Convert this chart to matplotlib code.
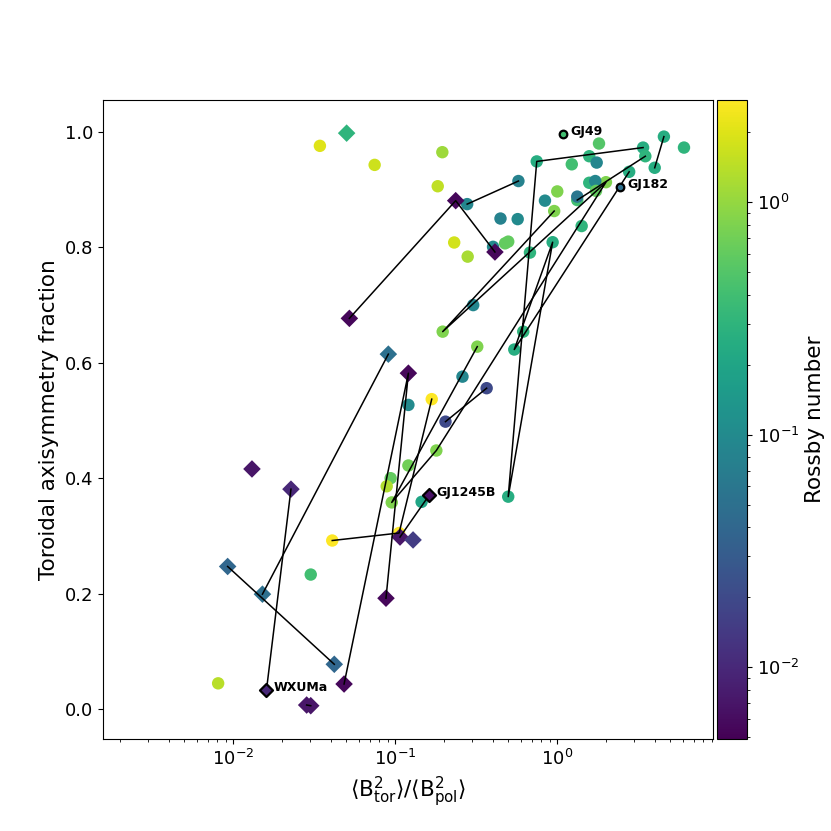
import matplotlib
matplotlib.use('Agg')
import matplotlib.pyplot as plt
from matplotlib.colors import LogNorm
import numpy as np

# magnetic energy ratio <B_tor^2>/<B_pol^2>, toroidal axisymmetric fraction,
# Rossby number, marker ('o' = circle, 'D' = diamond) and star id (same id -> joined)
bratio = [0.961, 0.197, 2.006, 0.180, 0.0955, 0.322,
          3.40, 0.750, 0.500, 0.940, 0.545, 2.79,
          4.57, 4.01,
          3.51, 1.334,
          0.279, 0.578,
          0.368, 0.205,
          0.041, 0.106, 0.1686,
          0.0344, 0.0749, 0.196, 0.1836, 0.232, 0.281, 0.448, 0.572, 0.403,
          0.478, 0.500, 0.681, 0.843, 1.004, 1.234, 1.817, 1.582, 1.758,
          1.582, 1.723, 1.741, 1.334, 1.42, 6.08, 0.304, 0.619, 0.261,
          0.121, 0.121, 0.094, 0.0889, 0.146, 0.0302, 0.0081,
          0.0503,
          0.0523, 0.237, 0.414,
          0.0485, 0.121, 0.0880,
          0.091, 0.0152,
          0.00927, 0.0422,
          0.0228,
          0.1074,
          0.0285, 0.0302,
          0.1293, 0.0131]
axifrac = [0.863, 0.654, 0.913, 0.448, 0.358, 0.628,
           0.973, 0.949, 0.368, 0.809, 0.623, 0.931,
           0.992, 0.938,
           0.958, 0.882,
           0.875, 0.915,
           0.556, 0.498,
           0.292, 0.305, 0.537,
           0.976, 0.943, 0.965, 0.906, 0.8085, 0.784, 0.850, 0.849, 0.801,
           0.807, 0.810, 0.791, 0.881, 0.897, 0.944, 0.980, 0.958, 0.947,
           0.912, 0.915, 0.898, 0.888, 0.837, 0.973, 0.700, 0.654, 0.576,
           0.527, 0.422, 0.400, 0.386, 0.359, 0.233, 0.0445,
           0.998,
           0.677, 0.881, 0.792,
           0.0433, 0.582, 0.192,
           0.615, 0.199,
           0.247, 0.0775,
           0.381,
           0.298,
           0.0069, 0.0057,
           0.293, 0.416]
rossby = [0.8, 0.8, 0.8, 0.8, 0.8, 0.8,
          0.25, 0.25, 0.25, 0.25, 0.25, 0.25,
          0.25, 0.25,
          0.3, 0.4,
          0.09, 0.08,
          0.02, 0.02,
          2.75, 2.75, 2.75,
          2.0, 1.7, 1.1, 1.5, 1.8, 1.2, 0.08, 0.1, 0.1,
          0.6, 0.6, 0.3, 0.1, 0.8, 0.4, 0.5, 0.3, 0.09,
          0.3, 0.09, 0.6, 0.06, 0.3, 0.3, 0.09, 0.3, 0.09,
          0.1, 0.7, 0.6, 1.3, 0.2, 0.4, 1.4,
          0.3,
          0.0055, 0.0055, 0.0055,
          0.0055, 0.0055, 0.0055,
          0.05, 0.05,
          0.04, 0.04,
          0.01,
          0.007,
          0.007, 0.007,
          0.015, 0.007]
marker = ['o'] * 57 + ['D'] * 17
star = ['A'] * 6 + ['B'] * 6 + ['C'] * 2 + ['D'] * 2 + ['E'] * 2 + ['F'] * 2 + ['G'] * 3 \
    + ['s%d' % i for i in range(34)] + ['d0'] + ['H'] * 3 + ['I'] * 3 + ['J'] * 2 \
    + ['K'] * 2 + ['L'] + ['M'] + ['N'] * 2 + ['d1', 'd2']

# highlighted stars (black edge + name)
lab_name = ['GJ49', 'GJ182', 'GJ1245B', 'WXUMa']
lab_bratio = [1.089, 2.45, 0.163, 0.0161]
lab_axifrac = [0.997, 0.905, 0.371, 0.033]
lab_rossby = [0.4, 0.05, 0.0065, 0.01]
lab_marker = ['o', 'o', 'D', 'D']
lab_star = ['s90', 's91', 'M', 'L']

bratio = np.array(bratio)
axifrac = np.array(axifrac)
rossby = np.array(rossby)
marker = np.array(marker)
star = np.array(star)

norm = LogNorm(vmin=0.0049, vmax=2.75)
cmap = plt.get_cmap('viridis')

fig = plt.figure(figsize=(8.31, 8.31), dpi=100)
ax = fig.add_axes([0.124, 0.1107, 0.734, 0.769])
cax = fig.add_axes([0.8628, 0.1107, 0.0361, 0.769])

for m in ['o', 'D']:
    sel = marker == m
    sc = ax.scatter(bratio[sel], axifrac[sel], c=rossby[sel], cmap=cmap, norm=norm,
                    marker=m, s=80, edgecolors='none', zorder=2)

for m, x, y, r in zip(lab_marker, lab_bratio, lab_axifrac, lab_rossby):
    ax.scatter([x], [y], c=[r], cmap=cmap, norm=norm, marker=m,
               s=30 if m == 'o' else 44,
               edgecolors='k', linewidths=1.6, zorder=4)

# join repeated observations of the same star
all_x = np.concatenate([bratio, lab_bratio])
all_y = np.concatenate([axifrac, lab_axifrac])
all_s = np.concatenate([star, lab_star])
for s in dict.fromkeys(all_s):
    idx = np.where(all_s == s)[0]
    if len(idx) > 1:
        ax.plot(all_x[idx], all_y[idx], color='k', lw=1.1, zorder=3)

for name, x, y in zip(lab_name, lab_bratio, lab_axifrac):
    ax.annotate(name, (x, y), xytext=(5, 1.5), textcoords='offset points',
                fontsize=9, fontweight='bold', va='center', ha='left', zorder=5)

ax.set_xscale('log')
ax.set_xlim(10 ** -2.802, 10 ** 0.963)
ax.set_ylim(-0.052, 1.0555)
ax.set_yticks([0.0, 0.2, 0.4, 0.6, 0.8, 1.0])
ax.tick_params(labelsize=13)
ax.set_xlabel(r'$\langle \mathrm{B}^2_{\mathrm{tor}}\rangle / \langle \mathrm{B}^2_{\mathrm{pol}}\rangle$',
              fontsize=15.5)
ax.set_ylabel('Toroidal axisymmetry fraction', fontsize=15.5)

cb = fig.colorbar(sc, cax=cax)
cb.set_label('Rossby number', fontsize=15.5)
cax.tick_params(labelsize=13)

fig.savefig('out.png', dpi=100)
